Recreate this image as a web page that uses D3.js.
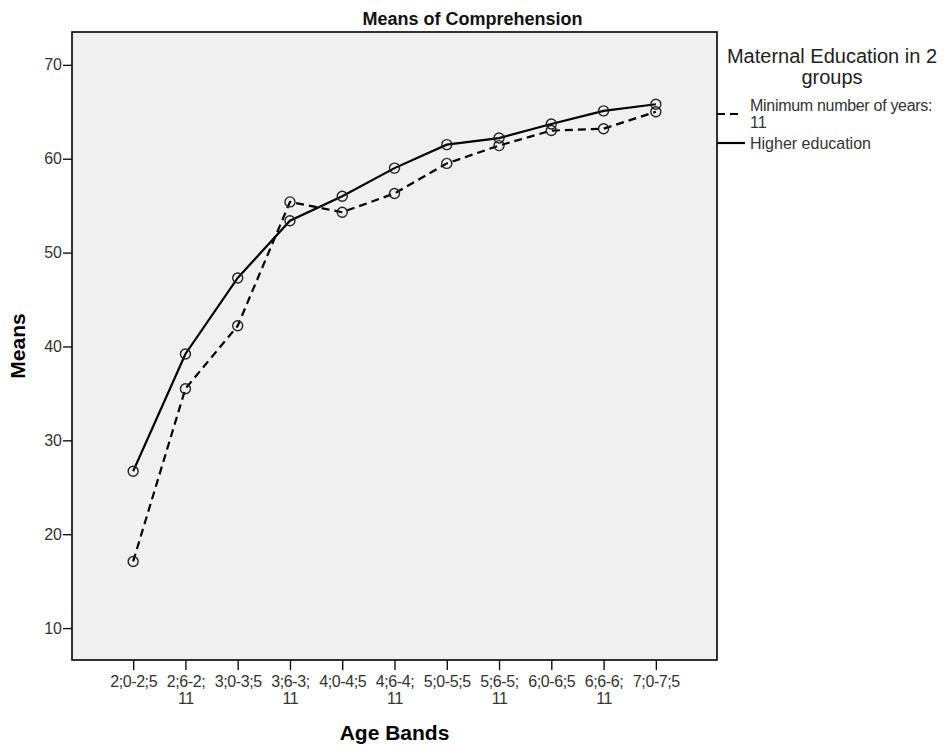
<!DOCTYPE html>
<html><head><meta charset="utf-8">
<script src="https://cdn.jsdelivr.net/npm/d3@7"></script>
<style>body{margin:0;background:#fff;} svg{display:block;font-family:"Liberation Sans",Arial,sans-serif;}</style>
</head><body>
<svg id="chart" width="949" height="751"></svg>
<script>
const categories = ["2;0-2;5","2;6-2;11","3;0-3;5","3;6-3;11","4;0-4;5","4;6-4;11","5;0-5;5","5;6-5;11","6;0-6;5","6;6-6;11","7;0-7;5"];
const tickLabelLines = [["2;0-2;5"],["2;6-2;","11"],["3;0-3;5"],["3;6-3;","11"],["4;0-4;5"],["4;6-4;","11"],["5;0-5;5"],["5;6-5;","11"],["6;0-6;5"],["6;6-6;","11"],["7;0-7;5"]];
const minimumYears = [17.1, 35.5, 42.2, 55.4, 54.3, 56.3, 59.5, 61.4, 63.0, 63.2, 65.0];
const higherEducation = [26.7, 39.2, 47.3, 53.4, 56.0, 59.0, 61.5, 62.2, 63.7, 65.1, 65.8];
const yTicks = [10, 20, 30, 40, 50, 60, 70];
const seriesNames = ["Minimum number of years:", "Higher education"];

const svg = d3.select("#chart");
const W = 949;
const L = 72, R = 717, T = 32, B = 660;
const x = d3.scalePoint().domain(categories).range([L, R]).padding(1.17);
const y = d3.scaleLinear().domain([6.6, 73.5]).range([B, T]);
const FONT = "Liberation Sans, Arial, sans-serif";

svg.append("rect").attr("x", L).attr("y", T).attr("width", R - L).attr("height", B - T)
  .attr("fill", "#f0f0f0").attr("stroke", "#000").attr("stroke-width", 1.6);

// y axis
const yAxis = svg.append("g").attr("transform", `translate(${L},0)`)
  .call(d3.axisLeft(y).tickValues(yTicks).tickSize(9).tickSizeOuter(0).tickPadding(1));
yAxis.select(".domain").remove();
yAxis.selectAll("line").attr("stroke", "#000").attr("stroke-width", 1.3);
yAxis.selectAll("text").attr("font-size", 16).attr("fill", "#333").attr("font-family", FONT);

// x axis
const xAxis = svg.append("g").attr("transform", `translate(0,${B})`)
  .call(d3.axisBottom(x).tickSize(10).tickSizeOuter(0).tickFormat(""));
xAxis.select(".domain").remove();
xAxis.selectAll("line").attr("stroke", "#000").attr("stroke-width", 1.3);
xAxis.selectAll(".tick").each(function(d, i) {
  const t = d3.select(this).append("text").attr("fill", "#333").attr("font-size", 16)
    .attr("text-anchor", "middle").attr("font-family", FONT).attr("letter-spacing", -0.4);
  tickLabelLines[i].forEach((s, j) => t.append("tspan").attr("x", 0).attr("y", 27 + j * 16.5).text(s));
});

// lines
const line = d3.line().x((d, i) => x(categories[i])).y(d => y(d));
svg.append("path").datum(higherEducation).attr("d", line).attr("fill", "none")
  .attr("stroke", "#000").attr("stroke-width", 2.2);
svg.append("path").datum(minimumYears).attr("d", line).attr("fill", "none")
  .attr("stroke", "#000").attr("stroke-width", 2.2).attr("stroke-dasharray", "8,5");

[minimumYears, higherEducation].forEach(series => {
  svg.append("g").selectAll("circle").data(series).join("circle")
    .attr("cx", (d, i) => x(categories[i])).attr("cy", d => y(d)).attr("r", 5)
    .attr("fill", "none").attr("stroke", "#222").attr("stroke-width", 1.4);
});

// title (centred over the whole chart)
svg.append("text").attr("x", W / 2 - 2).attr("y", 25).attr("text-anchor", "middle")
  .attr("font-size", 18).attr("font-weight", "bold").attr("fill", "#111").text("Means of Comprehension");
// axis titles
svg.append("text").attr("x", (L + R) / 2).attr("y", 740).attr("text-anchor", "middle")
  .attr("font-size", 21).attr("font-weight", "bold").text("Age Bands");
svg.append("text").attr("transform", `translate(25,${(T + B) / 2}) rotate(-90)`).attr("text-anchor", "middle")
  .attr("font-size", 21).attr("font-weight", "bold").text("Means");

// legend
const lg = svg.append("g").attr("font-family", FONT);
lg.append("text").attr("x", 832).attr("y", 63).attr("text-anchor", "middle").attr("font-size", 20).attr("fill", "#222").text("Maternal Education in 2");
lg.append("text").attr("x", 832).attr("y", 84).attr("text-anchor", "middle").attr("font-size", 20).attr("fill", "#222").text("groups");
lg.append("line").attr("x1", R).attr("x2", 743).attr("y1", 114).attr("y2", 114)
  .attr("stroke", "#000").attr("stroke-width", 2.2).attr("stroke-dasharray", "8,5");
lg.append("text").attr("x", 750).attr("y", 111).attr("font-size", 16).attr("fill", "#333").attr("letter-spacing", -0.3).text(seriesNames[0]);
lg.append("text").attr("x", 750).attr("y", 128).attr("font-size", 16).attr("fill", "#333").text("11");
lg.append("line").attr("x1", R).attr("x2", 745).attr("y1", 143).attr("y2", 143)
  .attr("stroke", "#000").attr("stroke-width", 2.2);
lg.append("text").attr("x", 750).attr("y", 149).attr("font-size", 16).attr("fill", "#333").text(seriesNames[1]);
</script>
</body></html>
